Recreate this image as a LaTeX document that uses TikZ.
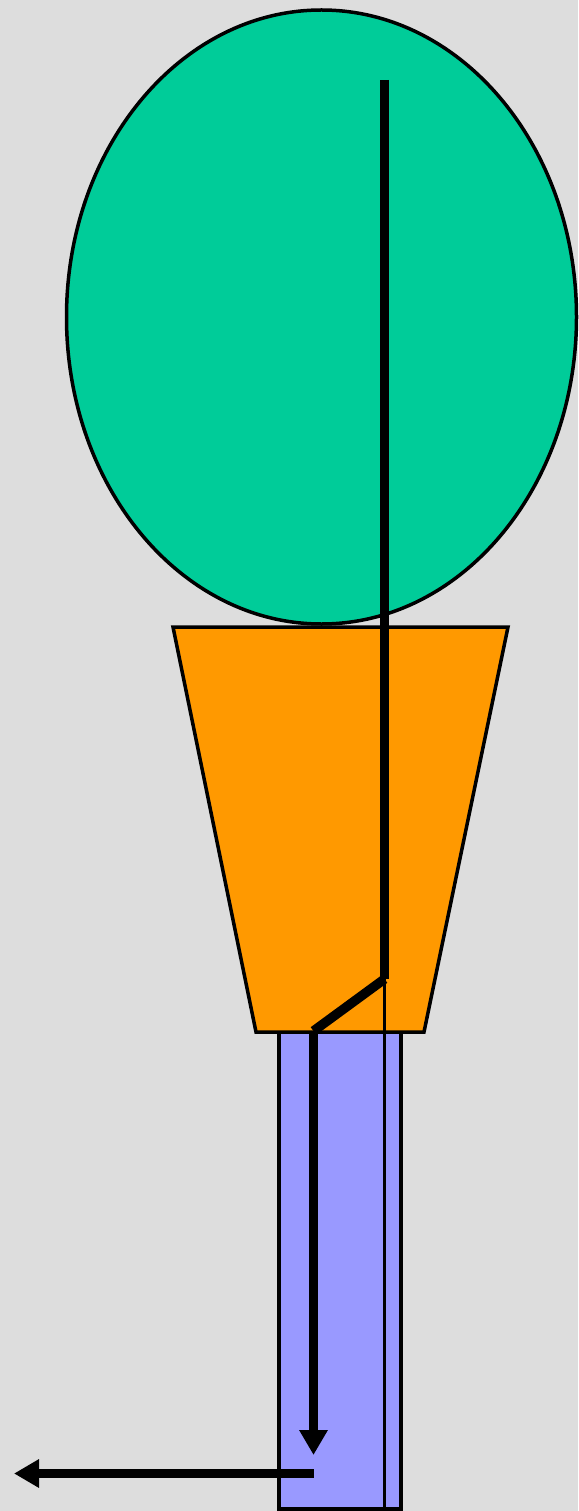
\documentclass[tikz,border=0pt]{standalone}
\usetikzlibrary{arrows.meta}
\definecolor{bg}{HTML}{DDDDDD}
\definecolor{leaf}{HTML}{00CC99}
\definecolor{pot}{HTML}{FF9900}
\definecolor{stem}{HTML}{9999FF}
\tikzset{
  outline/.style={draw=black, line width=3.5pt},
  thickline/.style={draw=black, line width=9.5pt},
  thinline/.style={draw=black, line width=3pt},
  bigtip/.style={-{Triangle[length=25pt, width=27pt]}}
}
\begin{document}
\begin{tikzpicture}[x=1pt, y=-1pt]
  \fill[bg] (0,0) rectangle (578,1511);
  \useasboundingbox (0,0) rectangle (578,1511);
  % crown
  \draw[outline, fill=leaf] (321.5,317) ellipse [x radius=255, y radius=307];
  % stem rectangle
  \draw[outline, fill=stem] (279,1032) rectangle (401,1509);
  % pot
  \draw[outline, fill=pot] (173,627) -- (508,627) -- (424,1032) -- (256,1032) -- cycle;
  % coordinates
  \coordinate (top) at (384.5,80);
  \coordinate (bend) at (384.5,979);
  \coordinate (thinend) at (384.5,1509);
  \coordinate (knee) at (313.5,1031);
  \coordinate (down) at (313.5,1455);
  \coordinate (hstart) at (313.5,1473.5);
  \coordinate (hend) at (14,1473.5);
  % lines
  \draw[thinline] (bend) -- (thinend);
  \draw[thickline] (top) -- (bend);
  \draw[thickline] (bend) -- (knee);
  \draw[thickline, bigtip] (knee) -- (down);
  \draw[thickline, bigtip] (hstart) -- (hend);
\end{tikzpicture}
\end{document}
